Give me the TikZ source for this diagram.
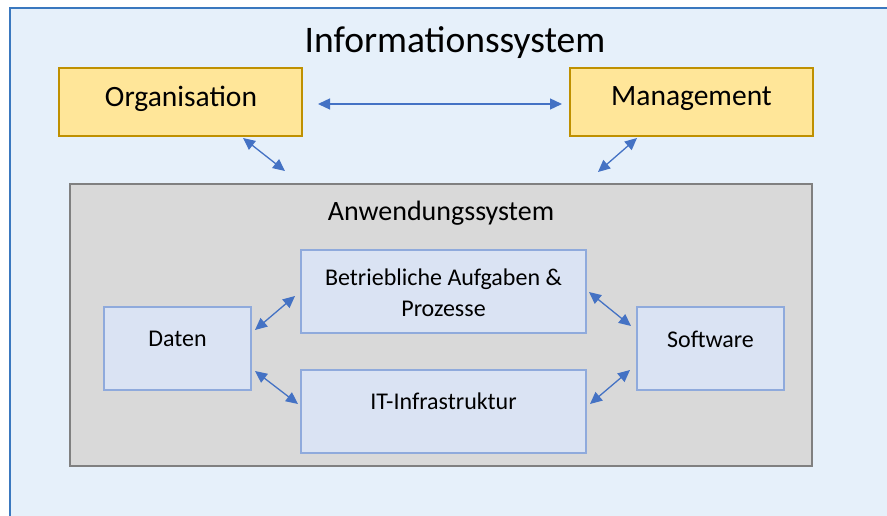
\documentclass[tikz,border=0pt]{standalone}
\usepackage{fontspec}
\setmainfont{Carlito}
\usetikzlibrary{arrows.meta}
\definecolor{outerfill}{HTML}{E6F0FA}
\definecolor{outerline}{HTML}{3A78BF}
\definecolor{yfill}{HTML}{FFE699}
\definecolor{yline}{HTML}{BF9000}
\definecolor{gfill}{HTML}{D9D9D9}
\definecolor{gline}{HTML}{808080}
\definecolor{bfill}{HTML}{DAE3F3}
\definecolor{bline}{HTML}{8FAADC}
\definecolor{arr}{HTML}{4472C4}
\tikzset{
  ybox/.style={draw=yline, fill=yfill, line width=2pt, minimum width=243pt, minimum height=68pt, inner sep=0pt},
  gbox/.style={draw=gline, fill=gfill, line width=2pt, minimum width=742pt, minimum height=282pt, inner sep=0pt},
  bbox/.style={draw=bline, fill=bfill, line width=2pt, inner sep=0pt},
  dbl/.style={draw=arr, line width=1.3pt, {Triangle[length=12pt,width=11pt]}-{Triangle[length=12pt,width=11pt]}},
  lbl/.style={inner sep=0pt, text=black}
}
\begin{document}
\begin{tikzpicture}[x=1pt,y=-1pt]
\useasboundingbox (0,0) rectangle (887,516);
\fill[white] (0,0) rectangle (887,516);
\draw[outerline, fill=outerfill, line width=2pt] (10,8) rectangle (920,560);
\node[lbl, font=\fontsize{37.5}{44}\selectfont] (title) at (455,43) {Informationssystem};
\node[ybox] (org) at (180.5,102) {};
\node[lbl, font=\fontsize{29.5}{34}\selectfont] (orgt) at (181,99) {Organisation};
\node[ybox] (man) at (691.5,102.5) {};
\node[lbl, font=\fontsize{29.5}{34}\selectfont] (mant) at (691.5,99) {Management};
\node[gbox] (anw) at (441,325) {};
\node[lbl, font=\fontsize{28}{32}\selectfont] (anwt) at (441,213) {Anwendungssystem};
\node[bbox, minimum width=285pt, minimum height=83pt] (bet) at (443.5,291.5) {};
\node[lbl, font=\fontsize{24}{28}\selectfont, align=center] (bett) at (443.5,293) {Betriebliche Aufgaben \&\\[3pt]Prozesse};
\node[bbox, minimum width=285pt, minimum height=83pt] (it) at (443.5,411.5) {};
\node[lbl, font=\fontsize{24}{28}\selectfont] (itt) at (443.5,401) {IT-Infrastruktur};
\node[bbox, minimum width=147pt, minimum height=83pt] (dat) at (177.5,348.5) {};
\node[lbl, font=\fontsize{24}{28}\selectfont] (datt) at (177.5,339) {Daten};
\node[bbox, minimum width=147pt, minimum height=83pt] (sw) at (710.5,348.5) {};
\node[lbl, font=\fontsize{24}{28}\selectfont] (swt) at (710.5,339) {Software};
% arrow end points
\coordinate (a1) at (318,104); \coordinate (a2) at (562,104);
\coordinate (b1) at (243,138); \coordinate (b2) at (285,171);
\coordinate (c1) at (637,138); \coordinate (c2) at (598,172);
\coordinate (d1) at (255,330); \coordinate (d2) at (295,296);
\coordinate (e1) at (255,371); \coordinate (e2) at (298,404);
\coordinate (f1) at (589,292); \coordinate (f2) at (631,326);
\coordinate (g1) at (590,404); \coordinate (g2) at (630,370);
\draw[dbl] (a1) -- (a2);
\draw[dbl] (b1) -- (b2);
\draw[dbl] (c1) -- (c2);
\draw[dbl] (d1) -- (d2);
\draw[dbl] (e1) -- (e2);
\draw[dbl] (f1) -- (f2);
\draw[dbl] (g1) -- (g2);
\end{tikzpicture}
\end{document}
